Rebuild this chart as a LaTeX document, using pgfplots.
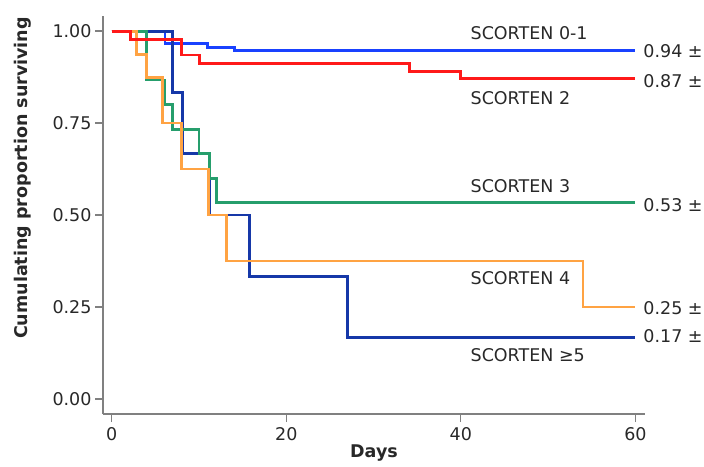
\documentclass[border=0pt]{standalone}
\usepackage{fontspec}
\setmainfont{DejaVu Sans}
\usepackage{pgfplots}
\pgfplotsset{compat=1.18}
\definecolor{sc01}{RGB}{25,65,255}
\definecolor{sc2}{RGB}{255,25,25}
\definecolor{sc3}{RGB}{38,158,108}
\definecolor{sc4}{RGB}{255,163,67}
\definecolor{sc5}{RGB}{22,56,168}
\definecolor{axgray}{RGB}{128,128,128}
\definecolor{txt}{RGB}{40,40,40}

\begin{document}
\begin{tikzpicture}
\path[use as bounding box] (0,0) rectangle (704pt,466pt);
\begin{axis}[
    at={(103pt,52pt)}, anchor=south west,
    width=542pt, height=398pt, scale only axis,
    xmin=-1, xmax=61.1, ymin=-0.041, ymax=1.041,
    axis x line*=bottom, axis y line*=left,
    axis line style={draw=axgray, line width=1.8pt, -},
    tick style={draw=axgray, line width=1.3pt},
    tick align=outside, major tick length=8pt,
    xtick={0,20,40,60}, ytick={0,0.25,0.5,0.75,1},
    yticklabel style={/pgf/number format/.cd, fixed, fixed zerofill, precision=2},
    /pgf/number format/assume math mode=true,
    ticklabel style={font=\fontsize{17.5}{20}\selectfont, text=txt},
    xticklabel style={yshift=-2pt},
    every axis x label/.style={at={(axis description cs:0.5,-0.1265)}, anchor=south,
        font=\fontsize{17.5}{20}\selectfont\bfseries, text=txt},
    every axis y label/.style={at={(axis description cs:-0.1476,0.593)}, rotate=90,
        anchor=center, font=\fontsize{17.5}{20}\selectfont\bfseries, text=txt},
    xlabel={Days}, ylabel={Cumulating proportion surviving},
    clip=false,
    km/.style={const plot, line width=2.9pt, line join=miter},
]
% SCORTEN 0-1
\addplot[sc01, km] coordinates {(0,1) (6.1,0.966) (11,0.955) (14.1,0.946) (60,0.946)};
% SCORTEN >=5
\addplot[sc5, km] coordinates {(0,1) (7,0.833) (8.1,0.667) (11.2,0.5) (15.8,0.333) (27,0.167) (60,0.167)};
% SCORTEN 3
\addplot[sc3, km] coordinates {(0,1) (4,0.867) (6,0.8) (7,0.733) (10,0.667) (11.2,0.6) (12,0.533) (60,0.533)};
% SCORTEN 4
\addplot[sc4, km] coordinates {(0,1) (2.8,0.9375) (4,0.875) (5.8,0.75) (8,0.625) (11.05,0.5) (13.2,0.375) (54,0.25) (60,0.25)};
% SCORTEN 2
\addplot[sc2, km] coordinates {(0,1) (2.1,0.976) (8,0.935) (10.1,0.912) (34.1,0.891) (40,0.87) (60,0.87)};

\begin{scope}[every node/.style={font=\fontsize{17.5}{20}\selectfont, text=txt, inner sep=0pt}]
\node[anchor=west] at (axis cs:41.1,0.995) {SCORTEN 0-1};
\node[anchor=west] at (axis cs:41.1,0.817) {SCORTEN 2};
\node[anchor=west] at (axis cs:41.1,0.579) {SCORTEN 3};
\node[anchor=west] at (axis cs:41.1,0.328) {SCORTEN 4};
\node[anchor=west] at (axis cs:41.1,0.120) {SCORTEN ≥5};
\node[anchor=west] at (axis cs:60.9,0.946) {0.94 ±};
\node[anchor=west] at (axis cs:60.9,0.864) {0.87 ±};
\node[anchor=west] at (axis cs:60.9,0.527) {0.53 ±};
\node[anchor=west] at (axis cs:60.9,0.246) {0.25 ±};
\node[anchor=west] at (axis cs:60.9,0.172) {0.17 ±};
\end{scope}
\end{axis}
\end{tikzpicture}
\end{document}
